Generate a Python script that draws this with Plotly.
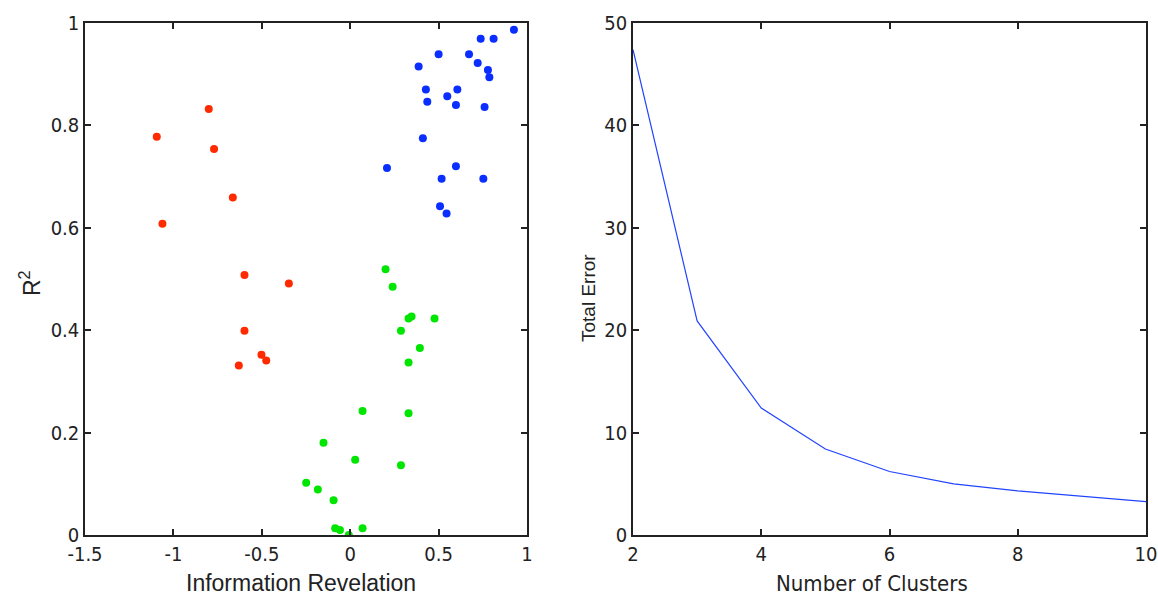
import plotly.graph_objects as go
from plotly.subplots import make_subplots

# Left: cluster scatter (Information Revelation vs R^2)
red_x = [-0.800, -1.094, -0.770, -0.664, -1.062, -0.598, -0.347, -0.598, -0.502, -0.475, -0.630]
red_y = [0.832, 0.778, 0.754, 0.659, 0.608, 0.508, 0.491, 0.399, 0.352, 0.341, 0.331]

green_x = [0.200, 0.240, 0.330, 0.347, 0.477, 0.287, 0.394, 0.330, 0.070, 0.330,
           -0.151, 0.028, 0.287, -0.249, -0.183, -0.094, -0.085, -0.058, -0.008, 0.070]
green_y = [0.519, 0.485, 0.423, 0.427, 0.423, 0.399, 0.365, 0.337, 0.242, 0.238,
           0.180, 0.147, 0.136, 0.102, 0.089, 0.068, 0.013, 0.010, 0.000, 0.013]

blue_x = [0.926, 0.738, 0.811, 0.500, 0.672, 0.721, 0.387, 0.779, 0.787, 0.428, 0.606,
          0.549, 0.436, 0.598, 0.760, 0.411, 0.208, 0.598, 0.517, 0.753, 0.508, 0.545]
blue_y = [0.987, 0.969, 0.969, 0.939, 0.939, 0.922, 0.915, 0.908, 0.894, 0.870, 0.870,
          0.857, 0.846, 0.840, 0.836, 0.775, 0.717, 0.720, 0.696, 0.696, 0.642, 0.628]

# Right: elbow curve
clusters = [2, 3, 4, 5, 6, 7, 8, 9, 10]
total_error = [47.4, 20.9, 12.4, 8.4, 6.2, 5.0, 4.3, 3.75, 3.25]

left_xticks = [-1.5, -1, -0.5, 0, 0.5, 1]
left_xtext = ["-1.5", "-1", "-0.5", "0", "0.5", "1"]
left_yticks = [0, 0.2, 0.4, 0.6, 0.8, 1]
left_ytext = ["0", "0.2", "0.4", "0.6", "0.8", "1"]
right_xticks = [2, 4, 6, 8, 10]
right_yticks = [0, 10, 20, 30, 40, 50]

fig = make_subplots(rows=1, cols=2, horizontal_spacing=0.1)

ms = 8
fig.add_trace(go.Scatter(x=red_x, y=red_y, mode="markers",
                         marker=dict(color="#ff2a00", size=ms), showlegend=False), row=1, col=1)
fig.add_trace(go.Scatter(x=green_x, y=green_y, mode="markers",
                         marker=dict(color="#00e600", size=ms), showlegend=False), row=1, col=1)
fig.add_trace(go.Scatter(x=blue_x, y=blue_y, mode="markers",
                         marker=dict(color="#0a2eff", size=ms), showlegend=False), row=1, col=1)
fig.add_trace(go.Scatter(x=clusters, y=total_error, mode="lines",
                         line=dict(color="#2244ff", width=1.2), showlegend=False), row=1, col=2)

tickfont = dict(family="DejaVu Sans Condensed, Liberation Sans Narrow, Liberation Sans", size=20, color="#222")
axis_common = dict(showgrid=False, zeroline=False, showline=True, linecolor="#222", linewidth=1.5,
                   mirror="ticks", ticks="inside", ticklen=6, tickcolor="#222", tickwidth=1.5,
                   tickfont=tickfont, automargin=False)

fig.update_xaxes(**axis_common)
fig.update_yaxes(**axis_common)

fig.update_xaxes(range=[-1.5, 1], tickvals=left_xticks, ticktext=left_xtext,
                 domain=[0, 0.4166], row=1, col=1)
fig.update_yaxes(range=[0, 1], tickvals=left_yticks, ticktext=left_ytext, row=1, col=1)
fig.update_xaxes(range=[2, 10], tickvals=right_xticks, domain=[0.5165, 1], row=1, col=2)
fig.update_yaxes(range=[0, 50], tickvals=right_yticks, row=1, col=2)

# plot area: x 85..1146 (1061 px), y 23..535 (512 px)
def px(x):
    return (x - 85) / 1061

def py(y):
    return (535 - y) / 512

title_font = dict(family="Liberation Sans, Arial", size=23, color="#222")
fig.add_annotation(text="Information Revelation", x=px(301), y=py(583), xref="paper", yref="paper",
                   showarrow=False, xanchor="center", yanchor="middle", font=title_font)
fig.add_annotation(text="Number of Clusters", x=px(872), y=py(583), xref="paper", yref="paper",
                   showarrow=False, xanchor="center", yanchor="middle",
                   font=dict(family="DejaVu Sans Condensed, Liberation Sans Narrow, Liberation Sans", size=22, color="#222"))
fig.add_annotation(text="R<sup>2</sup>", x=px(30), y=py(283), xref="paper", yref="paper",
                   showarrow=False, xanchor="center", yanchor="middle", textangle=-90, font=title_font)
fig.add_annotation(text="Total Error", x=px(588), y=py(298), xref="paper", yref="paper",
                   showarrow=False, xanchor="center", yanchor="middle", textangle=-90,
                   font=dict(family="Liberation Sans, Arial", size=19, color="#222"))

fig.update_layout(width=1158, height=597, plot_bgcolor="white", paper_bgcolor="white",
                  margin=dict(l=85, r=12, t=23, b=62, autoexpand=False))

fig.write_html("out.html")
